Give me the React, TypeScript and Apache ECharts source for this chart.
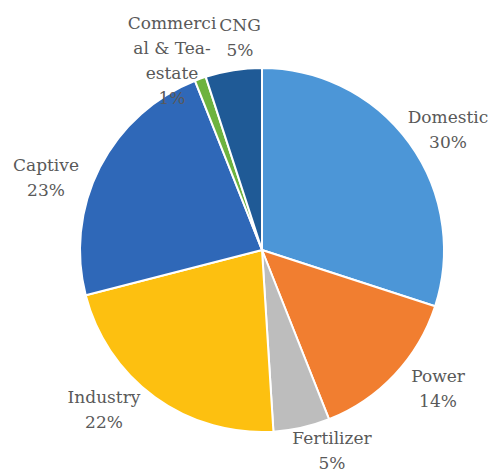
import React, { useEffect, useRef } from "react";
import * as echarts from "echarts";

const categories = ["Domestic", "Power", "Fertilizer", "Industry", "Captive", "Commercial & Tea-estate", "CNG"];
const labelTexts = ["Domestic", "Power", "Fertilizer", "Industry", "Captive", "Commerci\nal & Tea-\nestate", "CNG"];
const shares = [30, 14, 5, 22, 23, 1, 5];
const colors = ["#4C96D7", "#F17E30", "#BDBDBD", "#FDC010", "#2F68B8", "#6DB33F", "#1F5A96"];
const labelAnchors: [number, number][] = [
  [448, 129],
  [438, 388],
  [332, 450],
  [104, 409],
  [46, 177],
  [172, 60],
  [240, 37],
];

const FONT = "DejaVu Serif";

export default function App() {
  const ref = useRef<HTMLDivElement>(null);
  useEffect(() => {
    if (!ref.current) return;
    const chart = echarts.init(ref.current, null, { renderer: "svg" });
    chart.setOption({
      animation: false,
      textStyle: { fontFamily: FONT },
      series: [
        {
          type: "pie",
          center: [262, 250],
          radius: 182,
          startAngle: 90,
          clockwise: true,
          avoidLabelOverlap: false,
          itemStyle: { borderColor: "#ffffff", borderWidth: 2 },
          label: {
            show: true,
            position: "outside",
            color: "#595959",
            fontFamily: FONT,
            fontSize: 17,
            lineHeight: 25,
            align: "center",
            formatter: (p: any) => labelTexts[p.dataIndex] + "\n" + p.value + "%",
          },
          labelLine: { show: false },
          labelLayout: (p: any) => ({
            x: labelAnchors[p.dataIndex][0],
            y: labelAnchors[p.dataIndex][1],
            align: "center",
            verticalAlign: "middle",
          }),
          data: categories.map((name, i) => ({
            name,
            value: shares[i],
            itemStyle: { color: colors[i] },
          })),
        },
      ],
    });
    return () => chart.dispose();
  }, []);
  return <div ref={ref} style={{ width: 495, height: 475, position: "absolute", left: 0, top: 0 }} />;
}
